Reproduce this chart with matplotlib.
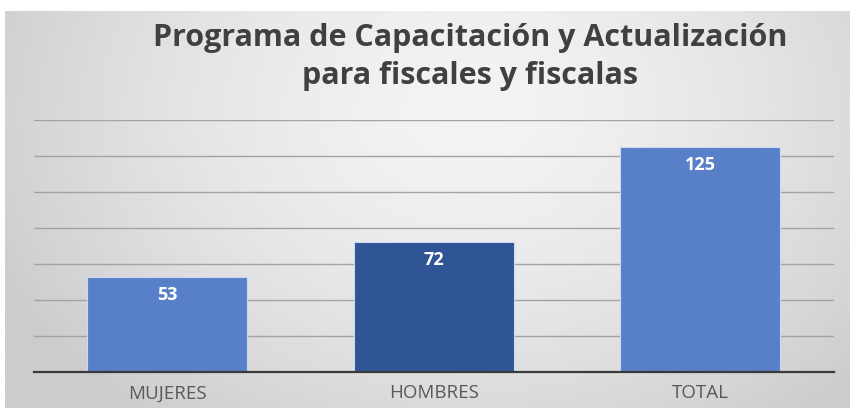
import numpy as np
import matplotlib
matplotlib.use("Agg")
import matplotlib.pyplot as plt

categories = ["MUJERES", "HOMBRES", "TOTAL"]
values = [53, 72, 125]
title_lines = ["Programa de Capacitación y Actualización", "para fiscales y fiscalas"]
bar_colors = ["#5880c8", "#2f5597", "#5880c8"]

W, H = 850, 408
fig = plt.figure(figsize=(W / 100, H / 100), dpi=100)
fig.patch.set_facecolor("white")

# Background panel with radial gradient
bg = fig.add_axes([5 / W, 0, (W - 5) / W, (H - 11) / H])
bg.set_axis_off()
ny, nx = 200, 420
yy, xx = np.mgrid[0:ny, 0:nx]
cx, cy = nx * 0.55, ny * 0.25
r = np.sqrt(((xx - cx) / (nx * 0.62)) ** 2 + ((yy - cy) / (ny * 1.0)) ** 2)
r = np.clip(r, 0, 1)
light, dark = 0.955, 0.80
g = light - (light - dark) * r ** 1.6
img = np.dstack([g, g, g])
bg.imshow(img, aspect="auto", extent=[0, 1, 0, 1], interpolation="bilinear")

# Main axes
left, right = 34 / W, 833.5 / W
bottom, top = (H - 372) / H, (H - 120) / H
ax = fig.add_axes([left, bottom, right - left, top - bottom])
ax.patch.set_alpha(0)
x = np.arange(len(categories))
bars = ax.bar(x, values, width=0.6, color=bar_colors, edgecolor="#c9daf0",
              linewidth=0.8, zorder=2)
ax.set_xlim(-0.5, len(categories) - 0.5)
ax.set_ylim(0, 140)
ax.set_yticks(np.arange(0, 141, 20))
ax.yaxis.grid(True, color="#a3a3a3", linewidth=1.0, zorder=1)
ax.set_axisbelow(True)
for s in ["top", "right", "left"]:
    ax.spines[s].set_visible(False)
ax.spines["bottom"].set_color("#3a3a3a")
ax.spines["bottom"].set_linewidth(1.6)
ax.spines["bottom"].set_zorder(3)
ax.tick_params(axis="y", length=0, labelleft=False)
ax.tick_params(axis="x", length=0, pad=9)
ax.set_xticks(x)
ax.set_xticklabels(categories, fontsize=13.5, color="#595959", family="Open Sans")

for xi, v in zip(x, values):
    ax.annotate(str(v), (xi, v), xytext=(0, -13), textcoords="offset points",
                ha="center", va="center", color="white", fontsize=13,
                fontweight="bold", family="Open Sans", zorder=4)

fig.text(470 / W, 1 - 38 / H, title_lines[0], ha="center", va="center",
         fontsize=22, fontweight="bold", color="#404040", family="Open Sans")
fig.text(470 / W, 1 - 76 / H, title_lines[1], ha="center", va="center",
         fontsize=22, fontweight="bold", color="#404040", family="Open Sans")

fig.savefig("out.png", dpi=100)
